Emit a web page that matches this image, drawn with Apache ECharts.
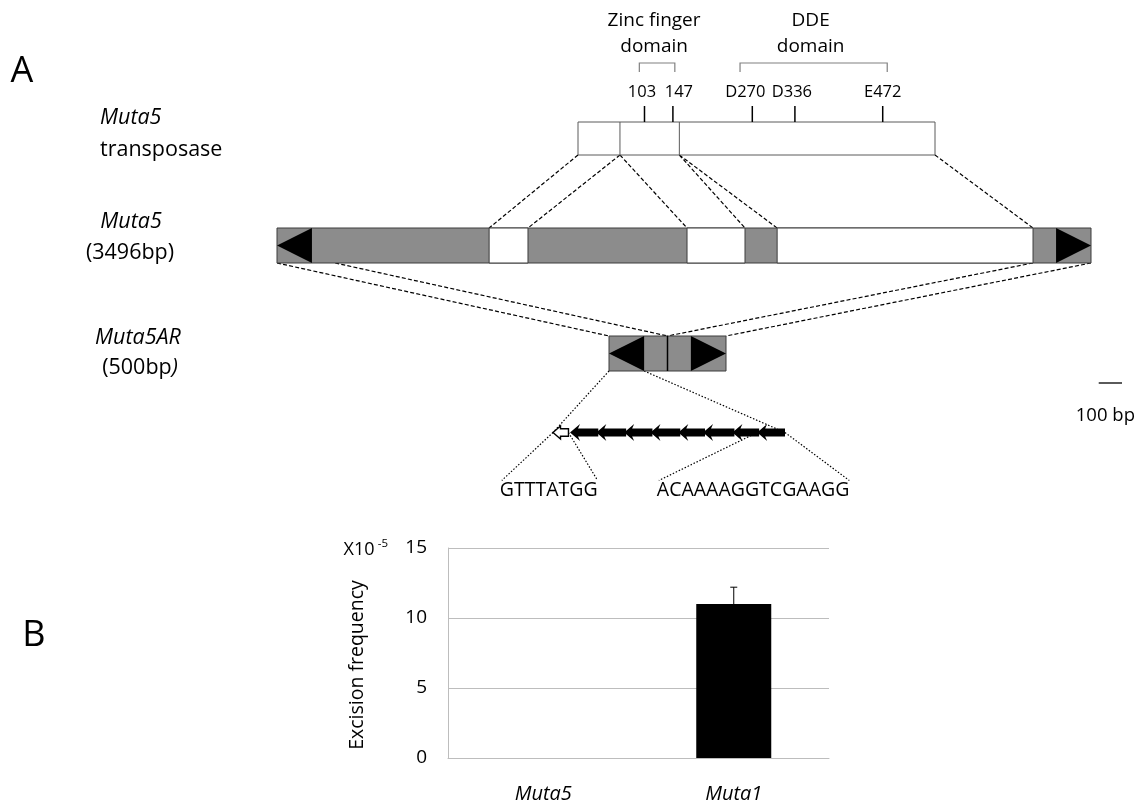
<!DOCTYPE html>
<html>
<head>
<meta charset="utf-8">
<script src="https://cdn.jsdelivr.net/npm/echarts@6/dist/echarts.min.js"></script>
<style>
  html, body { margin: 0; padding: 0; background: #fff; }
  #main { width: 1145px; height: 806px; }
</style>
</head>
<body>
<div id="main"></div>
<script>
// ---------- data ----------
// Muta5 transposase (amino-acid positions)
const proteinLength = 553;
const proteinExonEnds = [65, 157, 553];
const residuePositions = [103, 147, 270, 336, 472];
const residueLabels = ['103', '147', 'D270', 'D336', 'E472'];
const domainNames = ['Zinc finger\ndomain', 'DDE\ndomain'];
const domainSpans = [[95, 150], [251, 479]];

// Muta5 element (bp)
const muta5Length = 3496;
const tirLength = 150;
const muta5Exons = [[911, 1078], [1761, 2010], [2148, 3247]];

// Muta5AR (bp) and the Muta5 stretches it keeps
const muta5ARLength = 500;
const muta5ARSources = [[0, 250], [3246, 3496]];

// left TIR: a short unit, then tandem repeats (bp from the outer end)
const tirOpenUnit = [0, 10];
const tirRepeatStarts = [11, 28, 46, 63, 81, 97, 116, 132];
const tirSequences = ['GTTTATGG', 'ACAAAAGGTCGAAGG'];
const scaleBarBp = 100;

// excision assay (x10^-5)
const strains = ['Muta5', 'Muta1'];
const excisionFreq = [0, 11.0];
const excisionErr = [0, 1.2];
const freqMax = 15;
const freqStep = 5;

// ---------- drawing ----------
const FONT = '"Open Sans", "Noto Sans", sans-serif';
const COL = { gray: '#8c8c8c', edge: '#3c3c3c', box: '#5a5a5a', bracket: '#808080', rule: '#bdbdbd' };

const measureCtx = document.createElement('canvas').getContext('2d');
function textWidth(str, size) {
  measureCtx.font = size + 'px "Open Sans"';
  return measureCtx.measureText(str).width;
}

function spanRect(api, a, b) {
  const p = api.coord([a, 1]), q = api.coord([b, 0]);
  return { x: p[0], y: p[1], width: q[0] - p[0], height: q[1] - p[1] };
}
function vline(x, y1, y2, stroke, lw) {
  return { type: 'line', shape: { x1: x, y1: y1, x2: x, y2: y2 }, style: { stroke: stroke, lineWidth: lw } };
}
function label(x, y, text, size, extra) {
  return { type: 'text', x: x, y: y, style: Object.assign({
    text: text, fontFamily: FONT, fontSize: size, fill: '#000', align: 'center', verticalAlign: 'middle'
  }, extra || {}) };
}

// residue labels sit slightly off their tick to stay legible
const residueLabelNudge = [-2.5, 6, -7, -3, 0];

function renderProtein(params, api) {
  const top = api.coord([0, 1])[1], bottom = api.coord([0, 0])[1];
  const kids = [{ type: 'rect', shape: spanRect(api, 0, proteinLength),
                  style: { fill: '#fff', stroke: COL.box, lineWidth: 1 } }];
  proteinExonEnds.slice(0, -1).forEach(aa => {
    kids.push(vline(api.coord([aa, 0])[0], top, bottom, COL.box, 1));
  });
  residuePositions.forEach((aa, i) => {
    const x = api.coord([aa, 1])[0];
    kids.push(vline(x, top, top - 16, '#000', 1.5));
    kids.push(label(x + residueLabelNudge[i], top - 30, residueLabels[i], 16.5));
  });
  domainSpans.forEach((s, i) => {
    const xa = api.coord([s[0], 1])[0], xb = api.coord([s[1], 1])[0];
    kids.push({ type: 'polyline', shape: { points: [[xa, top - 50], [xa, top - 59], [xb, top - 59], [xb, top - 50]] },
                style: { stroke: COL.bracket, lineWidth: 1.2, fill: 'none' } });
    kids.push(label((xa + xb) / 2 - 3, top - 88, domainNames[i], 19, { lineHeight: 26 }));
  });
  return { type: 'group', children: kids };
}

function tirTriangles(api, length) {
  const top = api.coord([0, 1])[1], bottom = api.coord([0, 0])[1], mid = (top + bottom) / 2;
  const x = bp => api.coord([bp, 0])[0];
  return [
    { type: 'polygon', shape: { points: [[x(0), mid], [x(tirLength), top], [x(tirLength), bottom]] },
      style: { fill: '#000' } },
    { type: 'polygon', shape: { points: [[x(length - tirLength), top], [x(length - tirLength), bottom], [x(length), mid]] },
      style: { fill: '#000' } }
  ];
}

function renderMuta5(params, api) {
  const bottom = api.coord([0, 0])[1];
  const kids = [{ type: 'rect', shape: spanRect(api, 0, muta5Length),
                  style: { fill: COL.gray, stroke: COL.edge, lineWidth: 1 } }];
  muta5Exons.forEach(ex => {
    kids.push({ type: 'rect', shape: spanRect(api, ex[0], ex[1]),
                style: { fill: '#fff', stroke: COL.edge, lineWidth: 1 } });
  });
  kids.push(...tirTriangles(api, muta5Length));
  // scale bar
  const len = api.size([scaleBarBp, 0])[0];
  const xr = api.coord([muta5Length, 0])[0] + 31, yb = bottom + 120;
  kids.push({ type: 'line', shape: { x1: xr - len, y1: yb, x2: xr, y2: yb }, style: { stroke: '#000', lineWidth: 1.3 } });
  kids.push(label(xr - len / 2 - 5, yb + 33, scaleBarBp + ' bp', 18.5));
  return { type: 'group', children: kids };
}

function renderAR(params, api) {
  const top = api.coord([0, 1])[1], bottom = api.coord([0, 0])[1];
  const kids = [{ type: 'rect', shape: spanRect(api, 0, muta5ARLength),
                  style: { fill: COL.gray, stroke: COL.edge, lineWidth: 1 } }];
  kids.push(...tirTriangles(api, muta5ARLength));
  kids.push(vline(api.coord([muta5ARSources[0][1] - muta5ARSources[0][0], 0])[0], top, bottom, '#000', 1.5));
  return { type: 'group', children: kids };
}

function renderRepeats(params, api) {
  const y = api.coord([0, 0])[1];
  const x = bp => api.coord([bp, 0])[0];
  const headLen = 10, headHalf = 8.5, shaftHalf = 4;
  const kids = [];
  // shaft of each repeat runs from its head to the next head; heads have swept-back barbs
  tirRepeatStarts.forEach((s, i) => {
    const xs = x(s);
    const xe = i + 1 < tirRepeatStarts.length ? x(tirRepeatStarts[i + 1]) + 2 : x(tirLength);
    kids.push({ type: 'polygon', shape: { points: [
      [xs, y], [xs + headLen, y - headHalf], [xs + headLen - 2, y - shaftHalf], [xe, y - shaftHalf],
      [xe, y + shaftHalf], [xs + headLen - 2, y + shaftHalf], [xs + headLen, y + headHalf]] },
      style: { fill: '#000' } });
  });
  // open first unit
  const a = x(tirOpenUnit[0]), b = x(tirOpenUnit[1]), hl = 7.5, hh = 6.5, sh = 3.8;
  kids.push({ type: 'polygon', shape: { points: [[a, y], [a + hl, y - hh], [a + hl, y - sh], [b, y - sh],
                                                  [b, y + sh], [a + hl, y + sh], [a + hl, y + hh]] },
              style: { fill: '#fff', stroke: '#000', lineWidth: 1.4 } });
  // sequences of the first unit and of the last repeat
  const segs = [tirOpenUnit, [tirRepeatStarts[tirRepeatStarts.length - 1], tirLength]];
  const shift = [-12, -18];
  segs.forEach((seg, j) => {
    const p = x(seg[0]), q = x(seg[1]);
    const w = textWidth(tirSequences[j], 19.5);
    const cx = (p + q) / 2 + shift[j];
    const dot = { stroke: '#000', lineWidth: 1.2, lineDash: [1.5, 1.8] };
    kids.push({ type: 'line', shape: { x1: p, y1: y, x2: cx - w / 2 + 2, y2: y + 48 }, style: dot });
    kids.push({ type: 'line', shape: { x1: q, y1: y, x2: cx + w / 2, y2: y + 48 }, style: dot });
    kids.push(label(cx, y + 58, tirSequences[j], 19.5));
  });
  return { type: 'group', children: kids };
}

function renderErrorBar(params, api) {
  const err = api.value(2);
  if (!(err > 0)) return null;
  const p0 = api.coord([api.value(0), api.value(1)]);
  const p1 = api.coord([api.value(0), api.value(1) + err]);
  const st = { stroke: '#000', lineWidth: 1 };
  return { type: 'group', children: [
    { type: 'line', shape: { x1: p0[0], y1: p0[1], x2: p1[0], y2: p1[1] }, style: st },
    { type: 'line', shape: { x1: p1[0] - 3.5, y1: p1[1], x2: p1[0] + 3.5, y2: p1[1] }, style: st }
  ] };
}

const hiddenAxis = (grid, min, max) => ({ type: 'value', gridIndex: grid, min: min, max: max, show: false });

const chart = echarts.init(document.getElementById('main'));
const option = {
  animation: false,
  backgroundColor: '#fff',
  grid: [
    { left: 578, top: 122, width: 357, height: 33 },   // transposase
    { left: 277, top: 228, width: 814, height: 35 },   // Muta5
    { left: 609, top: 336, width: 117, height: 35 },   // Muta5AR
    { left: 553, top: 424, width: 232, height: 17 },   // left TIR repeats
    { left: 448, top: 548, width: 381, height: 210 }   // excision frequency
  ],
  xAxis: [
    hiddenAxis(0, 0, proteinLength),
    hiddenAxis(1, 0, muta5Length),
    hiddenAxis(2, 0, muta5ARLength),
    hiddenAxis(3, 0, tirLength),
    { type: 'category', gridIndex: 4, data: strains,
      axisLine: { lineStyle: { color: COL.rule, width: 1 } }, axisTick: { show: false },
      axisLabel: { fontFamily: FONT, fontSize: 20, fontStyle: 'italic', color: '#000', margin: 26 } }
  ],
  yAxis: [
    hiddenAxis(0, 0, 1), hiddenAxis(1, 0, 1), hiddenAxis(2, 0, 1), hiddenAxis(3, -1, 1),
    { type: 'value', gridIndex: 4, min: 0, max: freqMax, interval: freqStep,
      axisLine: { show: true, lineStyle: { color: COL.rule, width: 1 } }, axisTick: { show: false },
      splitLine: { lineStyle: { color: COL.rule, width: 1 } },
      axisLabel: { fontFamily: FONT, fontSize: 19, color: '#000', margin: 21 },
      name: 'Excision frequency', nameLocation: 'middle', nameRotate: 90, nameGap: 81,
      nameTextStyle: { fontFamily: FONT, fontSize: 19.5, color: '#000', padding: [0, 24, 0, 0] } }
  ],
  series: [
    { type: 'custom', xAxisIndex: 0, yAxisIndex: 0, data: [0], renderItem: renderProtein, clip: false, silent: true },
    { type: 'custom', xAxisIndex: 1, yAxisIndex: 1, data: [0], renderItem: renderMuta5, clip: false, silent: true },
    { type: 'custom', xAxisIndex: 2, yAxisIndex: 2, data: [0], renderItem: renderAR, clip: false, silent: true },
    { type: 'custom', xAxisIndex: 3, yAxisIndex: 3, data: [0], renderItem: renderRepeats, clip: false, silent: true },
    { type: 'bar', xAxisIndex: 4, yAxisIndex: 4, data: excisionFreq, barWidth: 75,
      itemStyle: { color: '#000' }, silent: true },
    { type: 'custom', xAxisIndex: 4, yAxisIndex: 4,
      data: excisionFreq.map((v, i) => [i, v, excisionErr[i]]),
      encode: { x: 0, y: 1 }, renderItem: renderErrorBar, clip: false, silent: true, z: 3 }
  ]
};
chart.setOption(option);

// dashed / dotted links between the levels of the diagram
const px = (g, x, y) => chart.convertToPixel({ gridIndex: g }, [x, y]);
const dashed = { stroke: '#000', lineWidth: 1.2, lineDash: [4, 2.2] };
const dotted = { stroke: '#000', lineWidth: 1.2, lineDash: [1.5, 1.8] };
const links = [];
muta5Exons.forEach((ex, i) => {
  const aaStart = i ? proteinExonEnds[i - 1] : 0;
  links.push([px(0, aaStart, 0), px(1, ex[0], 1), dashed]);
  links.push([px(0, proteinExonEnds[i], 0), px(1, ex[1], 1), dashed]);
});
let arPos = 0;
muta5ARSources.forEach(src => {
  const len = src[1] - src[0];
  links.push([px(1, src[0], 0), px(2, arPos, 1), dashed]);
  links.push([px(1, src[1], 0), px(2, arPos + len, 1), dashed]);
  arPos += len;
});
links.push([px(2, 0, 0), px(3, 0, 0), dotted]);
links.push([px(2, tirLength, 0), px(3, tirLength, 0), dotted]);

const text = (x, y, t, size, extra) => ({
  type: 'text', x: x, y: y, silent: true,
  style: Object.assign({ text: t, fontFamily: FONT, fontSize: size, fill: '#000',
                         align: 'center', verticalAlign: 'middle' }, extra || {})
});

chart.setOption({
  graphic: links.map(l => ({
    type: 'line', silent: true, z: -1,
    shape: { x1: l[0][0], y1: l[0][1], x2: l[1][0], y2: l[1][1] }, style: l[2]
  })).concat([
    text(22, 72, 'A', 36),
    text(34, 636, 'B', 36),
    text(100, 118, 'Muta5', 21.5, { align: 'left', fontStyle: 'italic' }),
    text(100, 150, 'transposase', 21.5, { align: 'left' }),
    text(131, 222, 'Muta5', 21.5, { fontStyle: 'italic' }),
    text(130, 253, '(3496bp)', 21.5),
    text(138, 338, 'Muta5AR', 21.5, { fontStyle: 'italic' }),
    text(140, 368, '(500bp{i|)}', 21.5, { rich: { i: { fontFamily: FONT, fontSize: 21.5, fontStyle: 'italic' } } }),
    text(359, 550, 'X10', 18),
    text(383, 544, '-5', 11.5)
  ])
});
</script>
</body>
</html>
